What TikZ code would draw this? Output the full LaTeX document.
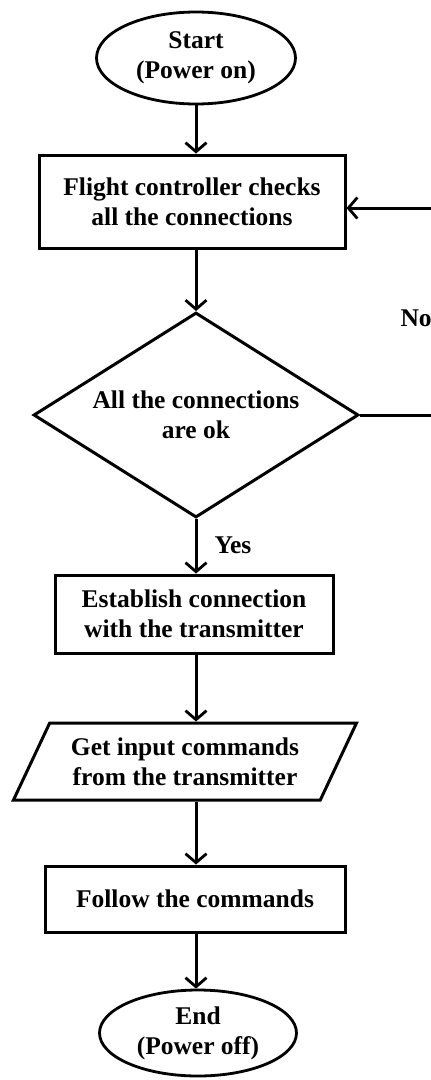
\documentclass[tikz,border=0pt]{standalone}
\usepackage{fontspec}
\setmainfont{Liberation Serif}
\usetikzlibrary{shapes.geometric,arrows.meta}

\tikzset{
    box/.style={draw, line width=3pt, rectangle, align=center, inner sep=0pt},
    term/.style={draw, line width=2.8pt, ellipse, align=center, inner sep=0pt},
    arr/.style={line width=3pt, -{Straight Barb[length=9pt, width=21pt, line width=2.8pt]}}
}

\begin{document}
\begin{tikzpicture}[x=1pt, y=1pt, font=\fontsize{25.5}{30}\selectfont\bfseries]
    \useasboundingbox (0,0) rectangle (431,-1080);

    % Terminals and steps
    \node[term, minimum width=199, minimum height=92] (start) at (196,-58) {Start\\(Power on)};
    \node[box, minimum width=306, minimum height=93] (check) at (192,-201.5)
        {Flight controller checks\\all the connections};
    \node[draw, line width=3pt, diamond, align=center, inner sep=0pt, aspect=1.585,
        minimum width=325, minimum height=205] (ok) at (196,-415)
        {All the connections\\are ok};
    \node[box, minimum width=278, minimum height=78] (link) at (194,-614)
        {Establish connection\\with the transmitter};
    \node[draw, line width=3pt, trapezium, trapezium left angle=57.5, trapezium right angle=122.5,
        trapezium stretches=true, align=center, inner sep=0pt,
        minimum width=344, minimum height=77] (input) at (185,-761.5)
        {Get input commands\\from the transmitter};
    \node[box, minimum width=300, minimum height=66] (follow) at (195,-899) {Follow the commands};
    \node[term, minimum width=197, minimum height=86] (stop) at (198,-1033) {End\\(Power off)};

    % Labels
    \node[anchor=west] (yes) at (211,-545) {Yes};
    \node[anchor=west] (no) at (397,-318) {No};

    % Arrows
    \draw[arr] (start.south) -- (start.south |- check.north);
    \draw[arr] (check.south -| ok.north) -- (ok.north);
    \draw[arr] (ok.south) -- (ok.south |- link.north);
    \draw[arr] (link.south -| ok.south) -- (ok.south |- input.north);
    \draw[arr] (ok.south |- input.south) -- (ok.south |- follow.north);
    \draw[arr] (follow.south -| ok.south) -- (ok.south |- stop.north);

    % Loop back when a connection fails
    \coordinate (loopR) at (450,-415);
    \draw[arr] (ok.east) -- (loopR) |- ([yshift=-6.5]check.east);
\end{tikzpicture}
\end{document}
